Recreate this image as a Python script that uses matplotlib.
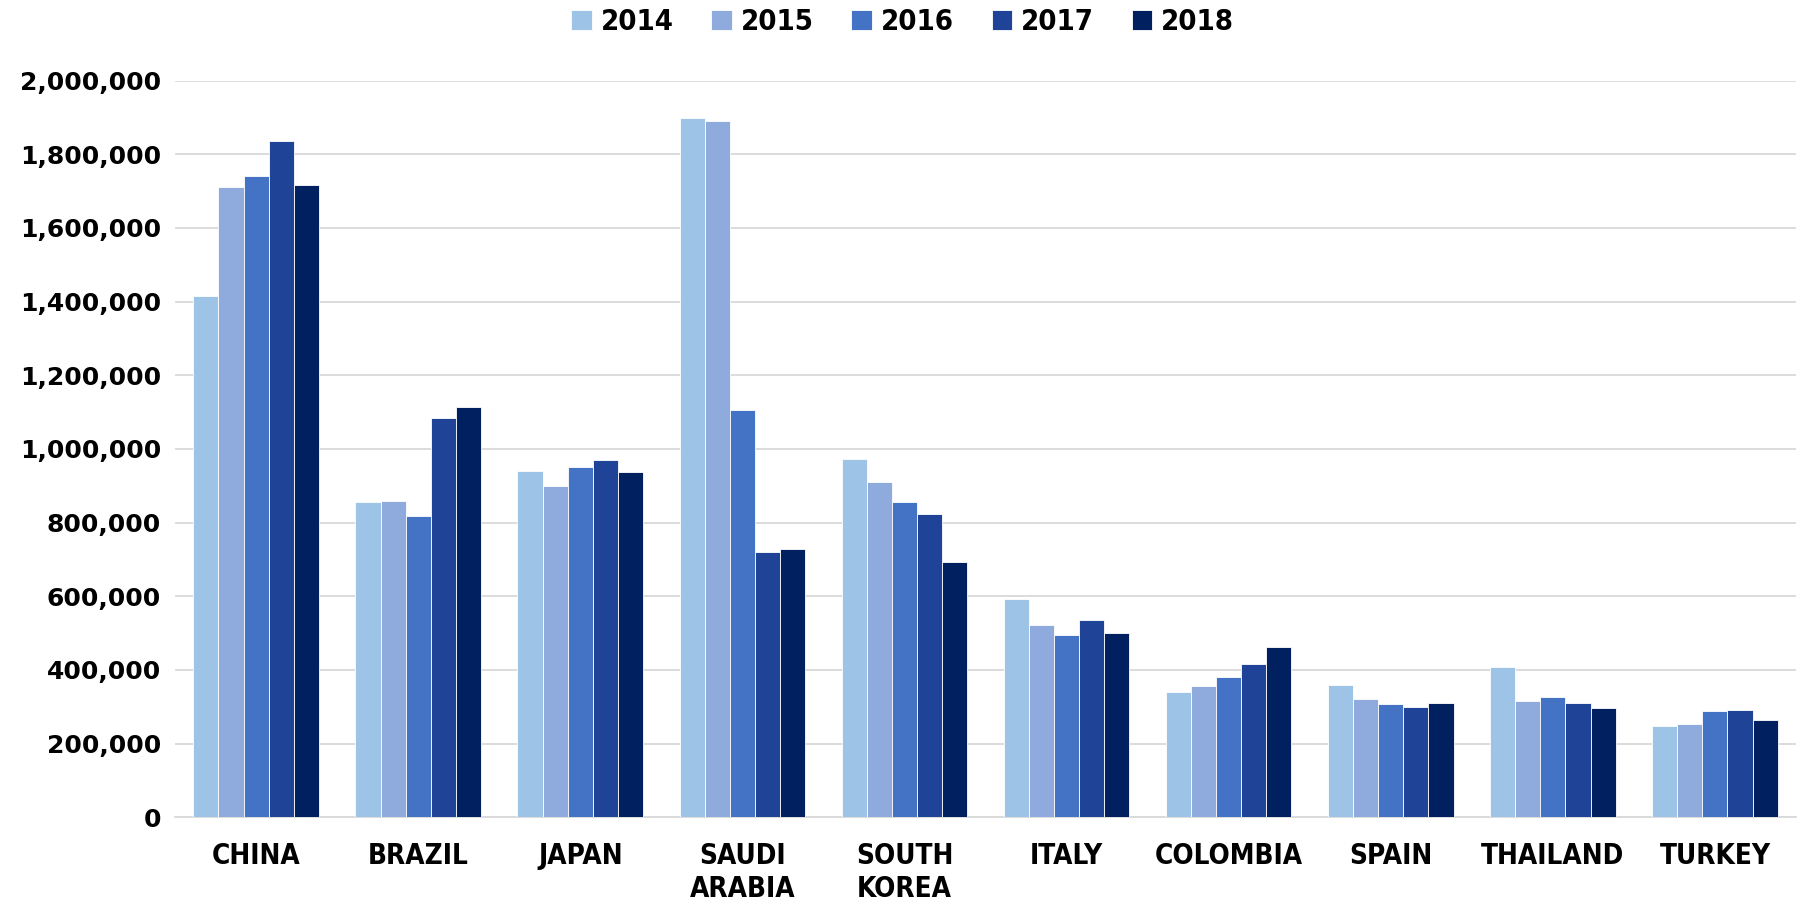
import numpy as np
import matplotlib.pyplot as plt
from matplotlib.ticker import FuncFormatter

countries = ["CHINA", "BRAZIL", "JAPAN", "SAUDI\nARABIA", "SOUTH\nKOREA",
             "ITALY", "COLOMBIA", "SPAIN", "THAILAND", "TURKEY"]
years = ["2014", "2015", "2016", "2017", "2018"]

v2014 = [1414700, 855000, 938600, 1898900, 973700, 593400, 339800, 360100, 408600, 246800]
v2015 = [1711400, 857700, 898200, 1890800, 910300, 520600, 357400, 319600, 314200, 253500]
v2016 = [1741000, 817300, 952100, 1104500, 855000, 493600, 381700, 307500, 326400, 287300]
v2017 = [1836800, 1082900, 971000, 718800, 824000, 535400, 415400, 298000, 310200, 291300]
v2018 = [1716800, 1112600, 935900, 728300, 691800, 499000, 461200, 308800, 295300, 263000]

colors = ["#9DC3E6", "#8FAADC", "#4472C4", "#1F4397", "#002060"]


def main():
    series = [v2014, v2015, v2016, v2017, v2018]

    fig = plt.figure(figsize=(18.05, 9.05), dpi=100)
    ax = fig.add_axes([0.097, 0.097, 0.898, 0.814])

    x = np.arange(len(countries))
    w = 0.155
    for i, (vals, c, yr) in enumerate(zip(series, colors, years)):
        ax.bar(x + (i - 2) * w, vals, w, color=c, edgecolor="white",
               linewidth=0.6, label=yr, zorder=3)

    ax.set_xlim(-0.5, len(countries) - 0.5)
    ax.set_ylim(0, 2000000)
    ax.set_yticks(np.arange(0, 2000001, 200000))
    ax.yaxis.set_major_formatter(FuncFormatter(lambda v, p: f"{int(v):,}"))
    ax.grid(True, axis="y", color="#d9d9d9", linewidth=1.3, zorder=0)

    for s in ["top", "right", "left"]:
        ax.spines[s].set_visible(False)
    ax.spines["bottom"].set_color("#d9d9d9")
    ax.spines["bottom"].set_linewidth(1.3)

    ax.tick_params(axis="both", length=0)
    ax.tick_params(axis="y", pad=10)
    ax.set_xticks(x)
    ax.set_xticklabels(countries, fontsize=20, fontweight="bold",
                       fontstretch="condensed", linespacing=1.2)
    ax.tick_params(axis="x", pad=18)
    for lab in ax.get_yticklabels():
        lab.set_fontsize(18)
        lab.set_fontweight("bold")

    fig.legend(loc="upper center", bbox_to_anchor=(0.5, 1.02), ncol=5,
               frameon=False, handlelength=0.7, handleheight=0.7,
               handletextpad=0.3, columnspacing=1.3,
               prop={"weight": "bold", "size": 21, "stretch": "condensed"})

    fig.savefig("out.png", dpi=100)


if __name__ == "__main__":
    main()
